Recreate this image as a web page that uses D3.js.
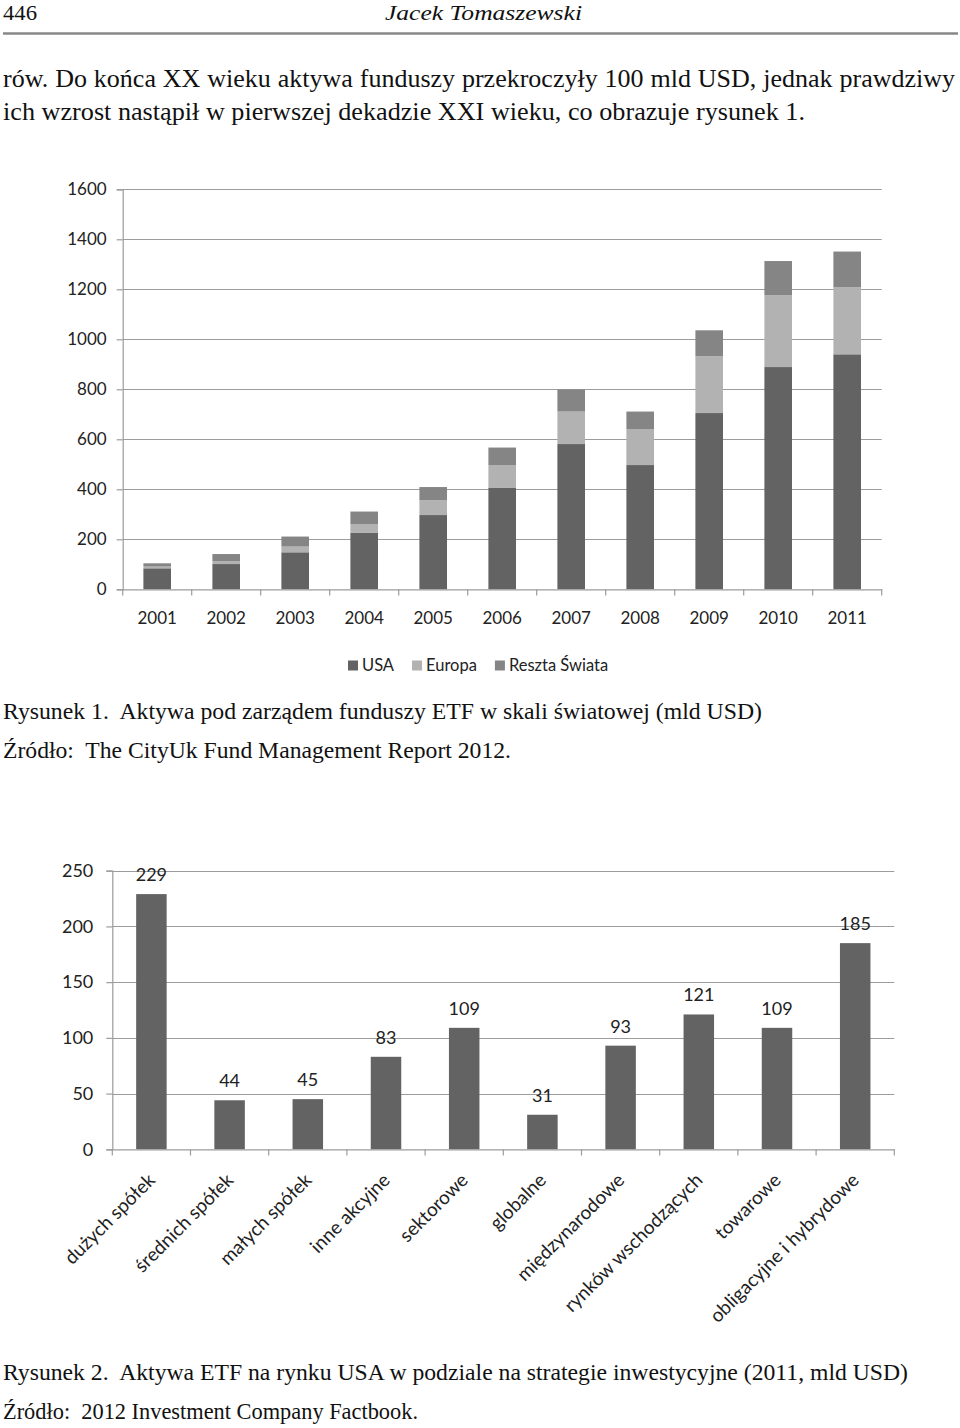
<!DOCTYPE html>
<html><head><meta charset="utf-8">
<script src="https://cdn.jsdelivr.net/npm/d3@7"></script>
<style>body{margin:0;background:#fff} svg{display:block} text{white-space:pre}
.serif{font-family:"Liberation Serif","Times New Roman",Tinos,"Nimbus Roman",serif}
.sans{font-family:Lato,"Open Sans",sans-serif}</style>
</head><body>
<svg id="c" width="960" height="1428"></svg>
<script>
// ---------- data ----------
const years = ["2001","2002","2003","2004","2005","2006","2007","2008","2009","2010","2011"];
const usa    = [84, 101, 148, 227, 297, 407, 581, 497, 705, 889, 940];
const europa = [7, 12, 23, 34, 59, 90, 130, 144, 227, 287, 268];
const reszta = [13, 28, 40, 50, 53, 70, 88, 70, 104, 137, 143];
const seriesNames = ["USA", "Europa", "Reszta Świata"];
const yTicks1 = [0, 200, 400, 600, 800, 1000, 1200, 1400, 1600];

const strategie = ["dużych spółek","średnich spółek","małych spółek","inne akcyjne","sektorowe","globalne","międzynarodowe","rynków wschodzących","towarowe","obligacyjne i hybrydowe"];
const wartosci = [229, 44, 45, 83, 109, 31, 93, 121, 109, 185];
const yTicks2 = [0, 50, 100, 150, 200, 250];

const colors = ["#636363", "#b2b2b2", "#858585"];
const gridCol = "#9c9c9c";

const svg = d3.select("#c");

// ---------- page text ----------
// mode: "natural" | "justify" (word spacing) | "fit" (scale glyphs to width)
function serifLine(txt, x, y, size, len, italic, mode) {
  const t = svg.append("text").attr("class", "serif").attr("x", x).attr("y", y)
    .attr("font-size", size)
    .attr("font-style", italic ? "italic" : "normal")
    .attr("fill", "#111")
    .text(txt);
  if (mode === "justify" && len) {
    const nat = t.node().getComputedTextLength();
    const spaces = (txt.match(/ /g) || []).length;
    if (spaces > 0) t.attr("word-spacing", (len - nat) / spaces);
  } else if (mode === "fit" && len) {
    t.attr("textLength", len).attr("lengthAdjust", "spacingAndGlyphs");
  }
  return t;
}
serifLine("446", 3, 20, 22, 34, false, "fit");
serifLine("Jacek Tomaszewski", 385, 20, 22, 197, true, "fit");
svg.append("line").attr("x1", 3).attr("x2", 958).attr("y1", 33.5).attr("y2", 33.5)
  .attr("stroke", "#888").attr("stroke-width", 2.5);
serifLine("rów. Do końca XX wieku aktywa funduszy przekroczyły 100 mld USD, jednak prawdziwy", 3, 87, 26, 952, false, "justify");
serifLine("ich wzrost nastąpił w pierwszej dekadzie XXI wieku, co obrazuje rysunek 1.", 3, 120, 26, 802, false, "fit");

serifLine("Rysunek 1.  Aktywa pod zarządem funduszy ETF w skali światowej (mld USD)", 3, 719, 24, 759, false, "fit");
serifLine("Źródło:  The CityUk Fund Management Report 2012.", 3, 758, 24, 508, false, "fit");
serifLine("Rysunek 2.  Aktywa ETF na rynku USA w podziale na strategie inwestycyjne (2011, mld USD)", 3, 1380, 24, 905, false, "fit");
serifLine("Źródło:  2012 Investment Company Factbook.", 3, 1419, 24, 415, false, "fit");

// ---------- chart 1: stacked bars ----------
{
  const x = d3.scaleBand().domain(years).range([122.7, 881.7]).paddingInner(0.6).paddingOuter(0.3);
  const y = d3.scaleLinear().domain([0, 1600]).range([589.3, 189.3]);
  const g = svg.append("g");

  g.selectAll("line.grid").data(yTicks1.filter(d => d > 0)).join("line")
    .attr("x1", 122.7).attr("x2", 881.7)
    .attr("y1", d => Math.round(y(d)) + 0.5).attr("y2", d => Math.round(y(d)) + 0.5)
    .attr("stroke", gridCol).attr("stroke-width", 1.2);

  const table = years.map((yr, i) => ({year: yr, USA: usa[i], Europa: europa[i], "Reszta Świata": reszta[i]}));
  const stacked = d3.stack().keys(seriesNames)(table);
  stacked.forEach((layer, k) => {
    g.selectAll(null).data(layer).join("rect")
      .attr("x", d => x(d.data.year))
      .attr("width", x.bandwidth())
      .attr("y", d => y(d[1]))
      .attr("height", d => y(d[0]) - y(d[1]))
      .attr("fill", colors[k]);
  });

  const yAx = g.append("g").attr("transform", "translate(122.7,0)")
    .call(d3.axisLeft(y).tickValues(yTicks1).tickSize(6).tickPadding(10).tickFormat(d3.format("d")));
  yAx.select(".domain").attr("stroke", gridCol).attr("stroke-width", 1.2);
  yAx.selectAll(".tick line").attr("stroke", gridCol).attr("stroke-width", 1.2);
  yAx.selectAll("text").attr("class", "sans").attr("font-family", null).attr("font-size", 17).attr("fill", "#222");

  const xAx = g.append("g").attr("transform", "translate(0,589.3)")
    .call(d3.axisBottom(x).tickSize(0).tickPadding(23));
  xAx.select(".domain").attr("stroke", gridCol).attr("stroke-width", 1.2);
  xAx.selectAll("text").attr("class", "sans").attr("font-family", null).attr("font-size", 17).attr("fill", "#222");
  const bounds = d3.range(years.length + 1).map(i => x.range()[0] + i * x.step());
  g.selectAll(null).data(bounds).join("line")
    .attr("x1", d => d).attr("x2", d => d).attr("y1", 589.3).attr("y2", 595.5)
    .attr("stroke", gridCol).attr("stroke-width", 1.2);

  const lg = svg.append("g").attr("transform", "translate(348,0)");
  let cx = 0;
  seriesNames.forEach((name, k) => {
    lg.append("rect").attr("x", cx).attr("y", 660.5).attr("width", 10).attr("height", 10).attr("fill", colors[k]);
    const t = lg.append("text").attr("class", "sans").attr("x", cx + 14).attr("y", 670.7)
      .attr("font-size", 16.5).attr("fill", "#222").text(name);
    cx += 14 + t.node().getComputedTextLength() + 18;
  });
}

// ---------- chart 2: bars ----------
{
  const x = d3.scaleBand().domain(strategie).range([112.3, 894.3]).paddingInner(0.61).paddingOuter(0.305);
  const y = d3.scaleLinear().domain([0, 250]).range([1149.3, 870.7]);
  const g = svg.append("g");

  g.selectAll("line.grid").data(yTicks2.filter(d => d > 0)).join("line")
    .attr("x1", 112.3).attr("x2", 894.3)
    .attr("y1", d => Math.round(y(d)) + 0.5).attr("y2", d => Math.round(y(d)) + 0.5)
    .attr("stroke", gridCol).attr("stroke-width", 1.2);

  g.selectAll(null).data(wartosci).join("rect")
    .attr("x", (d, i) => x(strategie[i]))
    .attr("width", x.bandwidth())
    .attr("y", d => y(d))
    .attr("height", d => y(0) - y(d))
    .attr("fill", "#636363");

  g.selectAll(null).data(wartosci).join("text")
    .attr("class", "sans")
    .attr("x", (d, i) => x(strategie[i]) + x.bandwidth() / 2)
    .attr("y", d => y(d) - 13)
    .attr("text-anchor", "middle")
    .attr("font-size", 18).attr("fill", "#222")
    .text(d => d);

  const yAx = g.append("g").attr("transform", "translate(112.3,0)")
    .call(d3.axisLeft(y).tickValues(yTicks2).tickSize(6).tickPadding(13));
  yAx.select(".domain").attr("stroke", gridCol).attr("stroke-width", 1.2);
  yAx.selectAll(".tick line").attr("stroke", gridCol).attr("stroke-width", 1.2);
  yAx.selectAll("text").attr("class", "sans").attr("font-family", null).attr("font-size", 18).attr("fill", "#222");

  const xAx = g.append("g").attr("transform", "translate(0,1149.3)")
    .call(d3.axisBottom(x).tickSize(0).tickFormat(""));
  xAx.select(".domain").attr("stroke", gridCol).attr("stroke-width", 1.2);
  const bounds = d3.range(strategie.length + 1).map(i => x.range()[0] + i * x.step());
  g.selectAll(null).data(bounds).join("line")
    .attr("x1", d => d).attr("x2", d => d).attr("y1", 1149.3).attr("y2", 1155.5)
    .attr("stroke", gridCol).attr("stroke-width", 1.2);

  g.selectAll(null).data(strategie).join("text")
    .attr("class", "sans")
    .attr("transform", d => `translate(${x(d) + x.bandwidth() / 2 + 5},${1149.3 + 32}) rotate(-45)`)
    .attr("text-anchor", "end")
    .attr("font-size", 19).attr("fill", "#222")
    .text(d => d);
}
</script>
</body></html>
